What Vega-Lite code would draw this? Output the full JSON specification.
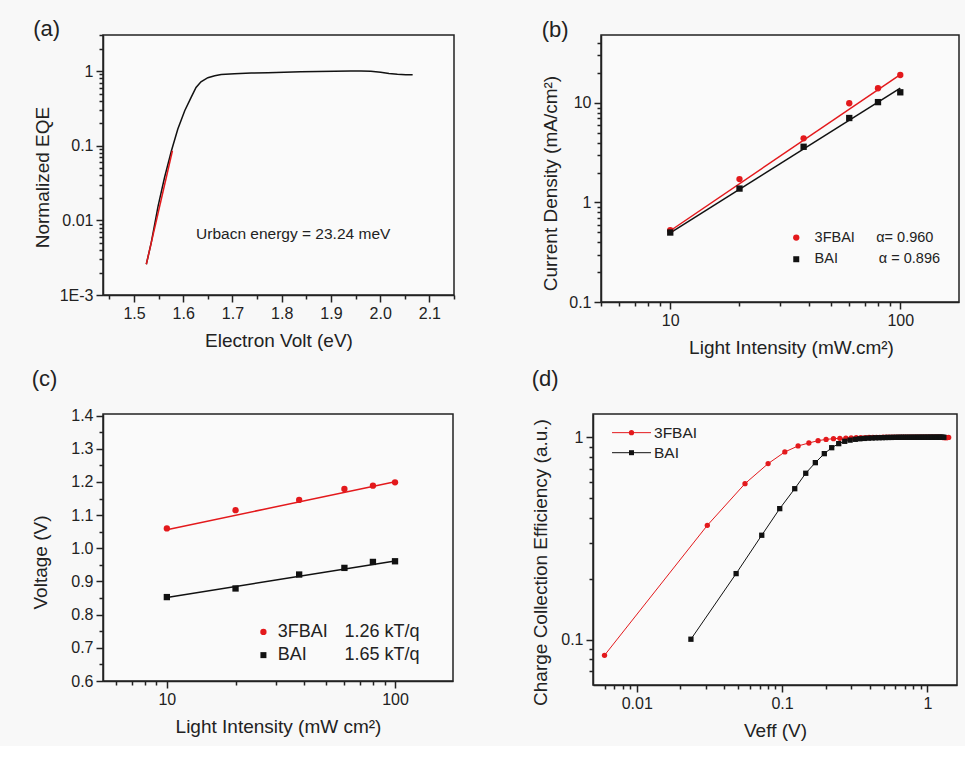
{
  "$schema": "https://vega.github.io/schema/vega-lite/v6.json",
  "background": "#f8f8f8",
  "padding": {"left": 31, "top": 17, "right": 5, "bottom": 5},
  "config": {
    "font": "Liberation Sans",
    "view": {"stroke": "#222", "strokeWidth": 1.5, "fill": "#fafafa"},
    "axis": {"grid": false, "domainColor": "#222", "domainWidth": 1.5, "ticks": true, "tickColor": "#222", "tickOpacity": 1, "tickWidth": 1.5, "tickSize": 7,
      "labelFont": "Liberation Sans", "labelFontSize": 16, "labelColor": "#222", "labelPadding": 3,
      "titleFont": "Liberation Sans", "titleFontSize": 19, "titleFontWeight": "normal", "titleColor": "#222"},
    "title": {"fontSize": 22, "fontWeight": "normal", "anchor": "start", "color": "#222", "frame": "bounds"}
  },
  "datasets": {
    "eqe": [
      {"ev": 1.525, "eqe": 0.00258}, {"ev": 1.535, "eqe": 0.00504}, {"ev": 1.549, "eqe": 0.0156}, {"ev": 1.562, "eqe": 0.0375},
      {"ev": 1.576, "eqe": 0.0855}, {"ev": 1.589, "eqe": 0.167}, {"ev": 1.603, "eqe": 0.294}, {"ev": 1.616, "eqe": 0.444},
      {"ev": 1.626, "eqe": 0.604}, {"ev": 1.636, "eqe": 0.719}, {"ev": 1.65, "eqe": 0.814}, {"ev": 1.664, "eqe": 0.866},
      {"ev": 1.677, "eqe": 0.902}, {"ev": 1.704, "eqe": 0.921}, {"ev": 1.738, "eqe": 0.94}, {"ev": 1.772, "eqe": 0.95},
      {"ev": 1.805, "eqe": 0.965}, {"ev": 1.839, "eqe": 0.975}, {"ev": 1.873, "eqe": 0.985}, {"ev": 1.907, "eqe": 0.995},
      {"ev": 1.94, "eqe": 1.0}, {"ev": 1.961, "eqe": 1.0}, {"ev": 1.981, "eqe": 0.99}, {"ev": 2.001, "eqe": 0.965},
      {"ev": 2.018, "eqe": 0.93}, {"ev": 2.035, "eqe": 0.905}, {"ev": 2.052, "eqe": 0.895}, {"ev": 2.066, "eqe": 0.89}
    ],
    "eqefit": [{"ev": 1.525, "eqe": 0.00258}, {"ev": 1.578, "eqe": 0.0855}],
    "jsc": [
      {"series": "3FBAI", "p": 10, "j": 0.526}, {"series": "3FBAI", "p": 20, "j": 1.717}, {"series": "3FBAI", "p": 38, "j": 4.41},
      {"series": "3FBAI", "p": 60, "j": 9.93}, {"series": "3FBAI", "p": 80, "j": 14.06}, {"series": "3FBAI", "p": 100, "j": 19.1},
      {"series": "BAI", "p": 10, "j": 0.499}, {"series": "BAI", "p": 20, "j": 1.38}, {"series": "BAI", "p": 38, "j": 3.63},
      {"series": "BAI", "p": 60, "j": 7.06}, {"series": "BAI", "p": 80, "j": 10.2}, {"series": "BAI", "p": 100, "j": 12.8}
    ],
    "jscfit": [
      {"series": "3FBAI", "p": 10, "j": 0.52}, {"series": "3FBAI", "p": 100, "j": 19.3},
      {"series": "BAI", "p": 10, "j": 0.495}, {"series": "BAI", "p": 100, "j": 14.1}
    ],
    "voc": [
      {"series": "3FBAI", "p": 10, "v": 1.06}, {"series": "3FBAI", "p": 20, "v": 1.115}, {"series": "3FBAI", "p": 38, "v": 1.146},
      {"series": "3FBAI", "p": 60, "v": 1.179}, {"series": "3FBAI", "p": 80, "v": 1.189}, {"series": "3FBAI", "p": 100, "v": 1.199},
      {"series": "BAI", "p": 10, "v": 0.853}, {"series": "BAI", "p": 20, "v": 0.879}, {"series": "BAI", "p": 38, "v": 0.921},
      {"series": "BAI", "p": 60, "v": 0.941}, {"series": "BAI", "p": 80, "v": 0.959}, {"series": "BAI", "p": 100, "v": 0.961}
    ],
    "vocfit": [
      {"series": "3FBAI", "p": 10, "v": 1.056}, {"series": "3FBAI", "p": 100, "v": 1.201},
      {"series": "BAI", "p": 10, "v": 0.852}, {"series": "BAI", "p": 100, "v": 0.962}
    ],
    "cce": [
      {"series": "3FBAI", "veff": 0.006, "e": 0.0837}, {"series": "3FBAI", "veff": 0.0306, "e": 0.367}, {"series": "3FBAI", "veff": 0.0556, "e": 0.59},
      {"series": "3FBAI", "veff": 0.0802, "e": 0.741}, {"series": "3FBAI", "veff": 0.1045, "e": 0.846}, {"series": "3FBAI", "veff": 0.129, "e": 0.906},
      {"series": "3FBAI", "veff": 0.153, "e": 0.937}, {"series": "3FBAI", "veff": 0.177, "e": 0.962}, {"series": "3FBAI", "veff": 0.201, "e": 0.976},
      {"series": "3FBAI", "veff": 0.226, "e": 0.984}, {"series": "3FBAI", "veff": 0.25, "e": 0.988}, {"series": "3FBAI", "veff": 0.275, "e": 0.991},
      {"series": "3FBAI", "veff": 0.299, "e": 0.993}, {"series": "3FBAI", "veff": 0.324, "e": 0.995}, {"series": "3FBAI", "veff": 0.348, "e": 0.996},
      {"series": "3FBAI", "veff": 0.373, "e": 0.997}, {"series": "3FBAI", "veff": 0.397, "e": 0.998}, {"series": "3FBAI", "veff": 0.422, "e": 0.998},
      {"series": "3FBAI", "veff": 0.446, "e": 0.999}, {"series": "3FBAI", "veff": 0.471, "e": 0.999}, {"series": "3FBAI", "veff": 0.495, "e": 1.0},
      {"series": "3FBAI", "veff": 0.52, "e": 1.0}, {"series": "3FBAI", "veff": 0.544, "e": 1.0}, {"series": "3FBAI", "veff": 0.569, "e": 1.0},
      {"series": "3FBAI", "veff": 0.593, "e": 1.0}, {"series": "3FBAI", "veff": 0.618, "e": 1.0}, {"series": "3FBAI", "veff": 0.642, "e": 1.0},
      {"series": "3FBAI", "veff": 0.667, "e": 1.0}, {"series": "3FBAI", "veff": 0.691, "e": 1.0}, {"series": "3FBAI", "veff": 0.716, "e": 1.0},
      {"series": "3FBAI", "veff": 0.74, "e": 1.0}, {"series": "3FBAI", "veff": 0.765, "e": 1.0}, {"series": "3FBAI", "veff": 0.789, "e": 1.0},
      {"series": "3FBAI", "veff": 0.814, "e": 1.0}, {"series": "3FBAI", "veff": 0.838, "e": 1.0}, {"series": "3FBAI", "veff": 0.863, "e": 1.0},
      {"series": "3FBAI", "veff": 0.887, "e": 1.0}, {"series": "3FBAI", "veff": 0.912, "e": 1.0}, {"series": "3FBAI", "veff": 0.936, "e": 1.0},
      {"series": "3FBAI", "veff": 0.961, "e": 1.0}, {"series": "3FBAI", "veff": 0.985, "e": 1.0}, {"series": "3FBAI", "veff": 1.01, "e": 1.0},
      {"series": "3FBAI", "veff": 1.034, "e": 1.0}, {"series": "3FBAI", "veff": 1.059, "e": 1.0}, {"series": "3FBAI", "veff": 1.083, "e": 1.0},
      {"series": "3FBAI", "veff": 1.108, "e": 1.0}, {"series": "3FBAI", "veff": 1.132, "e": 1.0}, {"series": "3FBAI", "veff": 1.157, "e": 1.0},
      {"series": "3FBAI", "veff": 1.181, "e": 1.0}, {"series": "3FBAI", "veff": 1.206, "e": 1.0}, {"series": "3FBAI", "veff": 1.23, "e": 1.0},
      {"series": "3FBAI", "veff": 1.255, "e": 0.998}, {"series": "3FBAI", "veff": 1.279, "e": 0.997}, {"series": "3FBAI", "veff": 1.304, "e": 0.996},
      {"series": "3FBAI", "veff": 1.328, "e": 0.995}, {"series": "3FBAI", "veff": 1.353, "e": 0.995}, {"series": "3FBAI", "veff": 1.377, "e": 0.996},
      {"series": "3FBAI", "veff": 1.402, "e": 0.998},
      {"series": "BAI", "veff": 0.0236, "e": 0.1005}, {"series": "BAI", "veff": 0.0483, "e": 0.212}, {"series": "BAI", "veff": 0.0725, "e": 0.328},
      {"series": "BAI", "veff": 0.0964, "e": 0.444}, {"series": "BAI", "veff": 0.1223, "e": 0.557}, {"series": "BAI", "veff": 0.1456, "e": 0.664},
      {"series": "BAI", "veff": 0.1695, "e": 0.749}, {"series": "BAI", "veff": 0.1954, "e": 0.83}, {"series": "BAI", "veff": 0.2197, "e": 0.888},
      {"series": "BAI", "veff": 0.2455, "e": 0.93}, {"series": "BAI", "veff": 0.27, "e": 0.955}, {"series": "BAI", "veff": 0.294, "e": 0.968},
      {"series": "BAI", "veff": 0.319, "e": 0.977}, {"series": "BAI", "veff": 0.343, "e": 0.983}, {"series": "BAI", "veff": 0.368, "e": 0.987},
      {"series": "BAI", "veff": 0.392, "e": 0.99}, {"series": "BAI", "veff": 0.417, "e": 0.992}, {"series": "BAI", "veff": 0.441, "e": 0.994},
      {"series": "BAI", "veff": 0.466, "e": 0.995}, {"series": "BAI", "veff": 0.49, "e": 0.996}, {"series": "BAI", "veff": 0.515, "e": 0.997},
      {"series": "BAI", "veff": 0.539, "e": 0.998}, {"series": "BAI", "veff": 0.564, "e": 0.998}, {"series": "BAI", "veff": 0.588, "e": 0.999},
      {"series": "BAI", "veff": 0.613, "e": 0.999}, {"series": "BAI", "veff": 0.637, "e": 1.0}, {"series": "BAI", "veff": 0.662, "e": 1.0},
      {"series": "BAI", "veff": 0.686, "e": 1.0}, {"series": "BAI", "veff": 0.711, "e": 1.0}, {"series": "BAI", "veff": 0.735, "e": 1.0},
      {"series": "BAI", "veff": 0.76, "e": 1.0}, {"series": "BAI", "veff": 0.784, "e": 1.0}, {"series": "BAI", "veff": 0.809, "e": 1.0},
      {"series": "BAI", "veff": 0.833, "e": 1.0}, {"series": "BAI", "veff": 0.858, "e": 1.0}, {"series": "BAI", "veff": 0.882, "e": 1.0},
      {"series": "BAI", "veff": 0.907, "e": 1.0}, {"series": "BAI", "veff": 0.931, "e": 1.0}, {"series": "BAI", "veff": 0.956, "e": 1.0},
      {"series": "BAI", "veff": 0.98, "e": 1.0}, {"series": "BAI", "veff": 1.005, "e": 1.0}, {"series": "BAI", "veff": 1.029, "e": 1.0},
      {"series": "BAI", "veff": 1.054, "e": 1.0}, {"series": "BAI", "veff": 1.078, "e": 1.0}, {"series": "BAI", "veff": 1.103, "e": 1.0},
      {"series": "BAI", "veff": 1.127, "e": 1.0}, {"series": "BAI", "veff": 1.152, "e": 1.0}, {"series": "BAI", "veff": 1.176, "e": 1.0},
      {"series": "BAI", "veff": 1.201, "e": 1.0}, {"series": "BAI", "veff": 1.225, "e": 1.0}, {"series": "BAI", "veff": 1.25, "e": 1.0},
      {"series": "BAI", "veff": 1.274, "e": 1.0}, {"series": "BAI", "veff": 1.299, "e": 1.0}
    ]
  },
  "vconcat": [
    {
      "spacing": 85,
      "hconcat": [
        {
          "width": 351, "height": 260,
          "title": {"text": "(a)", "offset": -7},
          "resolve": {"axis": {"x": "independent", "y": "independent"}},
          "layer": [
            {
              "data": {"name": "eqe"},
              "mark": {"type": "line", "color": "#111", "strokeWidth": 1.5},
              "encoding": {
                "x": {"field": "ev", "type": "quantitative", "scale": {"domain": [1.437, 2.15], "nice": false, "zero": false},
                  "axis": {"orient": "bottom", "title": "Electron Volt (eV)", "values": [1.5, 1.6, 1.7, 1.8, 1.9, 2.0, 2.1], "format": ".1f", "titlePadding": 10}},
                "y": {"field": "eqe", "type": "quantitative", "scale": {"type": "log", "domain": [0.001, 3.04], "nice": false},
                  "axis": {"orient": "left", "title": "Normalized EQE", "values": [0.001, 0.01, 0.1, 1], "labelExpr": "datum.value < 0.005 ? '1E-3' : format(datum.value, '~g')", "titlePadding": 7, "titleY": 142}}
              }
            },
            {
              "data": {"name": "eqefit"},
              "mark": {"type": "line", "color": "#e3191c", "strokeWidth": 1.5},
              "encoding": {
                "x": {"field": "ev", "type": "quantitative", "axis": {"orient": "bottom", "values": [1.45, 1.55, 1.65, 1.75, 1.85, 1.95, 2.05, 2.15], "labels": false, "domain": false, "ticks": true, "tickSize": 4, "title": null}},
                "y": {"field": "eqe", "type": "quantitative", "axis": {"orient": "left", "values": [0.002, 0.003, 0.004, 0.005, 0.006, 0.007, 0.008, 0.009, 0.02, 0.03, 0.04, 0.05, 0.06, 0.07, 0.08, 0.09, 0.2, 0.3, 0.4, 0.5, 0.6, 0.7, 0.8, 0.9, 2, 3], "labels": false, "domain": false, "ticks": true, "tickSize": 4, "title": null}}
              }
            },
            {
              "data": {"values": [{"t": "Urbacn energy = 23.24 meV"}]},
              "mark": {"type": "text", "align": "left", "baseline": "middle", "fontSize": 15.5, "color": "#222"},
              "encoding": {
                "x": {"datum": 1.626, "type": "quantitative", "axis": null},
                "y": {"datum": 0.00652, "type": "quantitative", "axis": null},
                "text": {"field": "t"}
              }
            }
          ]
        },
        {
          "width": 358, "height": 267,
          "title": {"text": "(b)", "offset": -7},
          "resolve": {"axis": {"x": "independent", "y": "independent"}},
          "layer": [
            {
              "data": {"name": "jscfit"},
              "mark": {"type": "line", "strokeWidth": 1.5},
              "encoding": {
                "x": {"field": "p", "type": "quantitative", "scale": {"type": "log", "domain": [5, 180], "nice": false},
                  "axis": {"orient": "bottom", "title": "Light Intensity (mW.cm²)", "values": [10, 100], "titlePadding": 10, "titleX": 190}},
                "y": {"field": "j", "type": "quantitative", "scale": {"type": "log", "domain": [0.1, 48.2], "nice": false},
                  "axis": {"orient": "left", "title": "Current Density (mA/cm²)", "values": [0.1, 1, 10], "format": "~g", "titlePadding": 8, "titleY": 148}},
                "color": {"field": "series", "type": "nominal", "scale": {"domain": ["3FBAI", "BAI"], "range": ["#e3191c", "#111111"]}, "legend": null}
              }
            },
            {
              "data": {"name": "jsc"},
              "mark": {"type": "point", "filled": true, "opacity": 1, "size": 40},
              "encoding": {
                "x": {"field": "p", "type": "quantitative", "axis": {"orient": "bottom", "values": [5, 6, 7, 8, 9, 20, 30, 40, 50, 60, 70, 80, 90], "labels": false, "domain": false, "ticks": true, "tickSize": 4, "title": null}},
                "y": {"field": "j", "type": "quantitative", "axis": {"orient": "left", "values": [0.2, 0.3, 0.4, 0.5, 0.6, 0.7, 0.8, 0.9, 2, 3, 4, 5, 6, 7, 8, 9, 20, 30, 40], "labels": false, "domain": false, "ticks": true, "tickSize": 4, "title": null}},
                "color": {"field": "series", "type": "nominal", "legend": null},
                "shape": {"field": "series", "type": "nominal", "scale": {"domain": ["3FBAI", "BAI"], "range": ["circle", "square"]}, "legend": null}
              }
            },
            {
              "data": {"values": [{"t": "3FBAI"}]},
              "mark": {"type": "point", "shape": "circle", "filled": true, "opacity": 1, "size": 40, "color": "#e3191c"},
              "encoding": {"x": {"datum": 35.3, "type": "quantitative", "axis": null}, "y": {"datum": 0.444, "type": "quantitative", "axis": null}}
            },
            {
              "data": {"values": [{"t": "BAI"}]},
              "mark": {"type": "point", "shape": "square", "filled": true, "opacity": 1, "size": 36, "color": "#111"},
              "encoding": {"x": {"datum": 35.3, "type": "quantitative", "axis": null}, "y": {"datum": 0.269, "type": "quantitative", "axis": null}}
            },
            {
              "data": {"values": [{"t": "3FBAI"}]},
              "mark": {"type": "text", "align": "left", "baseline": "middle", "fontSize": 14.5, "color": "#222"},
              "encoding": {"x": {"datum": 42.4, "type": "quantitative", "axis": null}, "y": {"datum": 0.444, "type": "quantitative", "axis": null}, "text": {"field": "t"}}
            },
            {
              "data": {"values": [{"t": "BAI"}]},
              "mark": {"type": "text", "align": "left", "baseline": "middle", "fontSize": 14.5, "color": "#222"},
              "encoding": {"x": {"datum": 42.4, "type": "quantitative", "axis": null}, "y": {"datum": 0.269, "type": "quantitative", "axis": null}, "text": {"field": "t"}}
            },
            {
              "data": {"values": [{"t": "α= 0.960"}]},
              "mark": {"type": "text", "align": "left", "baseline": "middle", "fontSize": 14.5, "color": "#222"},
              "encoding": {"x": {"datum": 78.6, "type": "quantitative", "axis": null}, "y": {"datum": 0.444, "type": "quantitative", "axis": null}, "text": {"field": "t"}}
            },
            {
              "data": {"values": [{"t": "α = 0.896"}]},
              "mark": {"type": "text", "align": "left", "baseline": "middle", "fontSize": 14.5, "color": "#222"},
              "encoding": {"x": {"datum": 80.7, "type": "quantitative", "axis": null}, "y": {"datum": 0.269, "type": "quantitative", "axis": null}, "text": {"field": "t"}}
            }
          ]
        }
      ]
    },
    {
      "spacing": 77,
      "hconcat": [
        {
          "width": 350, "height": 267,
          "title": {"text": "(c)", "offset": 17},
          "resolve": {"axis": {"x": "independent", "y": "independent"}},
          "layer": [
            {
              "data": {"name": "vocfit"},
              "mark": {"type": "line", "strokeWidth": 1.5},
              "encoding": {
                "x": {"field": "p", "type": "quantitative", "scale": {"type": "log", "domain": [5.25, 179.5], "nice": false},
                  "axis": {"orient": "bottom", "title": "Light Intensity (mW cm²)", "values": [10, 100], "titlePadding": 10}},
                "y": {"field": "v", "type": "quantitative", "scale": {"domain": [0.6, 1.405], "nice": false, "zero": false},
                  "axis": {"orient": "left", "title": "Voltage (V)", "values": [0.6, 0.7, 0.8, 0.9, 1.0, 1.1, 1.2, 1.3, 1.4], "format": ".1f", "titlePadding": 20, "titleY": 148}},
                "color": {"field": "series", "type": "nominal", "scale": {"domain": ["3FBAI", "BAI"], "range": ["#e3191c", "#111111"]}, "legend": null}
              }
            },
            {
              "data": {"name": "voc"},
              "mark": {"type": "point", "filled": true, "opacity": 1, "size": 40},
              "encoding": {
                "x": {"field": "p", "type": "quantitative", "axis": {"orient": "bottom", "values": [6, 7, 8, 9, 20, 30, 40, 50, 60, 70, 80, 90], "labels": false, "domain": false, "ticks": true, "tickSize": 4, "title": null}},
                "y": {"field": "v", "type": "quantitative", "axis": {"orient": "left", "values": [0.65, 0.75, 0.85, 0.95, 1.05, 1.15, 1.25, 1.35], "labels": false, "domain": false, "ticks": true, "tickSize": 4, "title": null}},
                "color": {"field": "series", "type": "nominal", "legend": null},
                "shape": {"field": "series", "type": "nominal", "scale": {"domain": ["3FBAI", "BAI"], "range": ["circle", "square"]}, "legend": null}
              }
            },
            {
              "data": {"values": [{"t": "3FBAI"}]},
              "mark": {"type": "point", "shape": "circle", "filled": true, "opacity": 1, "size": 40, "color": "#e3191c"},
              "encoding": {"x": {"datum": 26.5, "type": "quantitative", "axis": null}, "y": {"datum": 0.748, "type": "quantitative", "axis": null}}
            },
            {
              "data": {"values": [{"t": "BAI"}]},
              "mark": {"type": "point", "shape": "square", "filled": true, "opacity": 1, "size": 36, "color": "#111"},
              "encoding": {"x": {"datum": 26.5, "type": "quantitative", "axis": null}, "y": {"datum": 0.678, "type": "quantitative", "axis": null}}
            },
            {
              "data": {"values": [{"t": "3FBAI"}]},
              "mark": {"type": "text", "align": "left", "baseline": "middle", "fontSize": 18, "color": "#222"},
              "encoding": {"x": {"datum": 30.6, "type": "quantitative", "axis": null}, "y": {"datum": 0.748, "type": "quantitative", "axis": null}, "text": {"field": "t"}}
            },
            {
              "data": {"values": [{"t": "BAI"}]},
              "mark": {"type": "text", "align": "left", "baseline": "middle", "fontSize": 18, "color": "#222"},
              "encoding": {"x": {"datum": 30.6, "type": "quantitative", "axis": null}, "y": {"datum": 0.678, "type": "quantitative", "axis": null}, "text": {"field": "t"}}
            },
            {
              "data": {"values": [{"t": "1.26 kT/q"}]},
              "mark": {"type": "text", "align": "left", "baseline": "middle", "fontSize": 18, "color": "#222"},
              "encoding": {"x": {"datum": 60.0, "type": "quantitative", "axis": null}, "y": {"datum": 0.748, "type": "quantitative", "axis": null}, "text": {"field": "t"}}
            },
            {
              "data": {"values": [{"t": "1.65 kT/q"}]},
              "mark": {"type": "text", "align": "left", "baseline": "middle", "fontSize": 18, "color": "#222"},
              "encoding": {"x": {"datum": 60.0, "type": "quantitative", "axis": null}, "y": {"datum": 0.678, "type": "quantitative", "axis": null}, "text": {"field": "t"}}
            }
          ]
        },
        {
          "width": 364, "height": 271,
          "title": {"text": "(d)", "offset": 23},
          "resolve": {"axis": {"x": "independent", "y": "independent"}},
          "layer": [
            {
              "data": {"name": "cce"},
              "mark": {"type": "line", "strokeWidth": 1},
              "encoding": {
                "x": {"field": "veff", "type": "quantitative", "scale": {"type": "log", "domain": [0.005, 1.6], "nice": false},
                  "axis": {"orient": "bottom", "title": "Veff (V)", "values": [0.01, 0.1, 1], "format": "~g", "titlePadding": 10}},
                "y": {"field": "e", "type": "quantitative", "scale": {"type": "log", "domain": [0.0597, 1.303], "nice": false},
                  "axis": {"orient": "left", "title": "Charge Collection Efficiency (a.u.)", "values": [0.1, 1], "format": "~g", "titlePadding": 10, "titleY": 148}},
                "color": {"field": "series", "type": "nominal", "scale": {"domain": ["3FBAI", "BAI"], "range": ["#e3191c", "#111111"]}, "legend": null}
              }
            },
            {
              "data": {"name": "cce"},
              "mark": {"type": "point", "filled": true, "opacity": 1, "size": 28},
              "encoding": {
                "x": {"field": "veff", "type": "quantitative", "axis": {"orient": "bottom", "values": [0.006, 0.007, 0.008, 0.009, 0.02, 0.03, 0.04, 0.05, 0.06, 0.07, 0.08, 0.09, 0.2, 0.3, 0.4, 0.5, 0.6, 0.7, 0.8, 0.9], "labels": false, "domain": false, "ticks": true, "tickSize": 4, "title": null}},
                "y": {"field": "e", "type": "quantitative", "axis": {"orient": "left", "values": [0.07, 0.08, 0.09, 0.2, 0.3, 0.4, 0.5, 0.6, 0.7, 0.8, 0.9], "labels": false, "domain": false, "ticks": true, "tickSize": 4, "title": null}},
                "color": {"field": "series", "type": "nominal", "legend": null},
                "shape": {"field": "series", "type": "nominal", "scale": {"domain": ["3FBAI", "BAI"], "range": ["circle", "square"]}, "legend": null}
              }
            },
            {
              "data": {"values": [{"t": "3FBAI"}]},
              "mark": {"type": "rule", "color": "#e3191c", "strokeWidth": 1},
              "encoding": {"x": {"datum": 0.00676, "type": "quantitative", "axis": null}, "x2": {"datum": 0.01254}, "y": {"datum": 1.054, "type": "quantitative", "axis": null}}
            },
            {
              "data": {"values": [{"t": "BAI"}]},
              "mark": {"type": "rule", "color": "#111", "strokeWidth": 1},
              "encoding": {"x": {"datum": 0.00676, "type": "quantitative", "axis": null}, "x2": {"datum": 0.01254}, "y": {"datum": 0.839, "type": "quantitative", "axis": null}}
            },
            {
              "data": {"values": [{"t": "3FBAI"}]},
              "mark": {"type": "point", "shape": "circle", "filled": true, "opacity": 1, "size": 28, "color": "#e3191c"},
              "encoding": {"x": {"datum": 0.0092, "type": "quantitative", "axis": null}, "y": {"datum": 1.054, "type": "quantitative", "axis": null}}
            },
            {
              "data": {"values": [{"t": "BAI"}]},
              "mark": {"type": "point", "shape": "square", "filled": true, "opacity": 1, "size": 25, "color": "#111"},
              "encoding": {"x": {"datum": 0.0092, "type": "quantitative", "axis": null}, "y": {"datum": 0.839, "type": "quantitative", "axis": null}}
            },
            {
              "data": {"values": [{"t": "3FBAI"}]},
              "mark": {"type": "text", "align": "left", "baseline": "middle", "fontSize": 15.5, "color": "#222"},
              "encoding": {"x": {"datum": 0.01315, "type": "quantitative", "axis": null}, "y": {"datum": 1.054, "type": "quantitative", "axis": null}, "text": {"field": "t"}}
            },
            {
              "data": {"values": [{"t": "BAI"}]},
              "mark": {"type": "text", "align": "left", "baseline": "middle", "fontSize": 15.5, "color": "#222"},
              "encoding": {"x": {"datum": 0.01315, "type": "quantitative", "axis": null}, "y": {"datum": 0.839, "type": "quantitative", "axis": null}, "text": {"field": "t"}}
            }
          ]
        }
      ]
    }
  ],
  "spacing": 8
}
